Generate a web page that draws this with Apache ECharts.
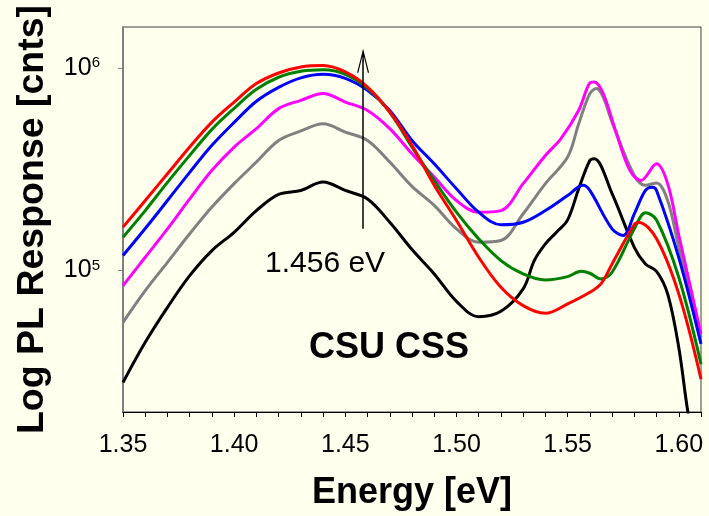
<!DOCTYPE html>
<html>
<head>
<meta charset="utf-8">
<script src="https://cdn.jsdelivr.net/npm/echarts@6/dist/echarts.min.js"></script>
<style>
html, body { margin: 0; padding: 0; background: #FFFFEE; }
#chart { width: 709px; height: 516px; }
</style>
</head>
<body>
<div id="chart"></div>
<script>
// axis ticks / labels
var xTicks = [1.35, 1.36, 1.37, 1.38, 1.39, 1.40, 1.41, 1.42, 1.43, 1.44, 1.45, 1.46, 1.47,
    1.48, 1.49, 1.50, 1.51, 1.52, 1.53, 1.54, 1.55, 1.56, 1.57, 1.58, 1.59, 1.60, 1.61];
var xLabels = [1.35, 1.40, 1.45, 1.50, 1.55, 1.60];
var yLabels = [1e5, 1e6];

// PL spectra, [energy eV, counts]
var black = [[1.35, 2.80e4], [1.36, 4.42e4], [1.37, 6.58e4], [1.38, 9.44e4], [1.39, 1.256e5], [1.40, 1.547e5],
    [1.41, 1.98e5], [1.42, 2.38e5], [1.43, 2.49e5], [1.44, 2.74e5], [1.45, 2.49e5], [1.46, 2.26e5],
    [1.47, 1.734e5], [1.48, 1.27e5], [1.49, 9.63e4], [1.50, 7.05e4], [1.51, 5.92e4], [1.52, 6.29e4],
    [1.53, 8.12e4], [1.535, 1.12e5], [1.54, 1.355e5], [1.545, 1.547e5], [1.55, 1.78e5], [1.555, 2.54e5],
    [1.56, 3.50e5], [1.562, 3.57e5], [1.57, 2.40e5], [1.58, 1.304e5], [1.585, 1.079e5], [1.59, 9.92e4],
    [1.595, 7.67e4], [1.60, 4.17e4], [1.604, 2.03e4], [1.606, 1.6e4]];
var gray = [[1.35, 5.55e4], [1.36, 7.96e4], [1.37, 1.099e5], [1.38, 1.52e5], [1.39, 2.06e5], [1.40, 2.69e5],
    [1.41, 3.44e5], [1.42, 4.40e5], [1.43, 4.90e5], [1.44, 5.32e5], [1.45, 4.84e5], [1.46, 4.40e5],
    [1.47, 3.44e5], [1.48, 2.61e5], [1.49, 2.10e5], [1.50, 1.608e5], [1.51, 1.38e5], [1.52, 1.408e5],
    [1.53, 1.909e5], [1.54, 2.69e5], [1.55, 3.64e5], [1.555, 5.32e5], [1.56, 7.50e5], [1.563, 7.94e5],
    [1.566, 7.21e5], [1.57, 5.42e5], [1.58, 2.95e5], [1.585, 2.64e5], [1.59, 2.71e5], [1.595, 2.22e5],
    [1.60, 1.304e5], [1.61, 4.68e4]];
var magenta = [[1.35, 8.43e4], [1.36, 1.164e5], [1.37, 1.608e5], [1.38, 2.26e5], [1.39, 3.13e5], [1.40, 4.08e5],
    [1.41, 5.03e5], [1.42, 6.32e5], [1.43, 6.94e5], [1.44, 7.50e5], [1.45, 6.81e5], [1.46, 6.19e5],
    [1.47, 5.03e5], [1.48, 3.78e5], [1.49, 2.90e5], [1.50, 2.22e5], [1.51, 1.944e5], [1.52, 1.98e5],
    [1.53, 2.69e5], [1.54, 3.71e5], [1.547, 4.49e5], [1.555, 6.2e5], [1.56, 8.46e5], [1.562, 8.56e5],
    [1.566, 7.5e5], [1.572, 4.75e5], [1.578, 3.13e5], [1.583, 2.79e5], [1.59, 3.37e5], [1.595, 2.69e5],
    [1.60, 1.50e5], [1.61, 4.86e4]];
var blue = [[1.35, 1.187e5], [1.36, 1.614e5], [1.37, 2.22e5], [1.38, 3.06e5], [1.39, 4.16e5], [1.40, 5.40e5],
    [1.41, 6.87e5], [1.42, 8.05e5], [1.43, 8.97e5], [1.44, 9.34e5], [1.45, 8.92e5], [1.46, 7.78e5],
    [1.47, 6.19e5], [1.48, 4.40e5], [1.49, 3.37e5], [1.50, 2.54e5], [1.51, 1.944e5], [1.52, 1.684e5],
    [1.53, 1.734e5], [1.54, 1.98e5], [1.55, 2.35e5], [1.557, 2.64e5], [1.56, 2.49e5], [1.57, 1.608e5],
    [1.575, 1.49e5], [1.58, 1.909e5], [1.585, 2.49e5], [1.588, 2.58e5], [1.59, 2.49e5], [1.60, 1.16e5],
    [1.61, 4.34e4]];
var green = [[1.35, 1.462e5], [1.36, 1.98e5], [1.37, 2.73e5], [1.38, 3.71e5], [1.39, 4.99e5], [1.40, 6.34e5],
    [1.41, 7.87e5], [1.42, 9.03e5], [1.43, 9.66e5], [1.44, 9.83e5], [1.45, 9.34e5], [1.46, 7.96e5],
    [1.47, 6.06e5], [1.48, 4.08e5], [1.49, 2.79e5], [1.50, 1.944e5], [1.51, 1.435e5], [1.52, 1.121e5],
    [1.53, 9.63e4], [1.54, 8.99e4], [1.55, 9.34e4], [1.556, 9.92e4], [1.56, 9.70e4], [1.565, 9.10e4],
    [1.57, 9.81e4], [1.58, 1.608e5], [1.585, 1.93e5], [1.59, 1.78e5], [1.60, 9.27e4], [1.61, 3.45e4]];
var red = [[1.35, 1.64e5], [1.36, 2.22e5], [1.37, 3.01e5], [1.38, 4.08e5], [1.39, 5.42e5], [1.40, 6.81e5],
    [1.41, 8.40e5], [1.42, 9.48e5], [1.43, 1.015e6], [1.44, 1.031e6], [1.45, 9.59e5], [1.46, 8.08e5],
    [1.47, 6.08e5], [1.48, 4.16e5], [1.49, 2.64e5], [1.50, 1.77e5], [1.51, 1.164e5], [1.52, 8.27e4],
    [1.53, 6.71e4], [1.54, 6.15e4], [1.55, 6.84e4], [1.56, 7.81e4], [1.565, 8.59e4], [1.57, 1.079e5],
    [1.58, 1.69e5], [1.582, 1.73e5], [1.59, 1.436e5], [1.60, 7.67e4], [1.61, 2.91e4]];

// arrow near 1.456 eV
var arrowAt = 1.458;
var arrowFrom = 1.61e5;
var arrowTo = 1.09e6;

var font = '"Liberation Sans", Arial, Helvetica, sans-serif';

function line(name, data, color) {
    return {
        name: name,
        type: 'line',
        data: data,
        showSymbol: false,
        smooth: 0.35,
        lineStyle: {color: color, width: 3},
        itemStyle: {color: color}
    };
}

var series = [
    line('black', black, '#000000'),
    line('gray', gray, '#808080'),
    line('magenta', magenta, '#FF00FF'),
    line('blue', blue, '#0000FF'),
    line('green', green, '#008000'),
    line('red', red, '#FF0000')
];
series[0].markLine = {
    silent: true,
    animation: false,
    symbol: ['none', 'path://M12,0 L24,48 L21.5,48 L12,9 L2.5,48 L0,48 Z M10.5,4 L13.5,4 L13.5,26 L10.5,26 Z'],
    symbolSize: [12, 24],
    label: {show: false},
    lineStyle: {color: '#000', width: 1.5, type: 'solid'},
    data: [[{coord: [arrowAt, arrowFrom]}, {coord: [arrowAt, arrowTo]}]]
};

var chart = echarts.init(document.getElementById('chart'));
chart.setOption({
    backgroundColor: '#FFFFEE',
    animation: false,
    grid: {left: 123, right: 8, top: 27, bottom: 104, show: true, borderColor: '#404040', borderWidth: 1},
    xAxis: {
        type: 'value',
        min: 1.35,
        max: 1.61,
        name: 'Energy [eV]',
        nameLocation: 'middle',
        nameGap: 63,
        nameTextStyle: {fontFamily: font, fontSize: 36, fontWeight: 'bold', color: '#000'},
        axisLine: {show: true, onZero: false, lineStyle: {color: '#000', width: 1}},
        axisTick: {show: true, inside: false, length: 5, customValues: xTicks, lineStyle: {color: '#000'}},
        axisLabel: {
            customValues: xLabels, margin: 21, fontFamily: font, fontSize: 25, color: '#000',
            formatter: function (v) { return v.toFixed(2); }
        },
        splitLine: {show: false}
    },
    yAxis: {
        type: 'log',
        logBase: 10,
        min: 20000,
        max: 1600000,
        name: 'Log PL Response [cnts]',
        nameLocation: 'middle',
        nameGap: 71,
        nameTextStyle: {fontFamily: font, fontSize: 37.5, fontWeight: 'bold', color: '#000'},
        axisLine: {show: true, lineStyle: {color: '#808080', width: 2}},
        axisTick: {show: true, inside: false, length: 5, customValues: yLabels, lineStyle: {color: '#808080'}},
        axisLabel: {
            customValues: yLabels, margin: 23,
            formatter: function (v) { return '{b|10}{s|' + Math.round(Math.log10(v)) + '}'; },
            rich: {
                b: {fontFamily: font, fontSize: 25, color: '#000'},
                s: {fontFamily: font, fontSize: 15, color: '#000', verticalAlign: 'top'}
            }
        },
        splitLine: {show: false}
    },
    graphic: [
        {type: 'text', left: 265, top: 249, style: {text: '1.456 eV', font: '30px ' + font, fill: '#000'}},
        {type: 'text', left: 309, top: 330, style: {text: 'CSU CSS', font: 'bold 36px ' + font, fill: '#000'}}
    ],
    series: series
});
</script>
</body>
</html>
